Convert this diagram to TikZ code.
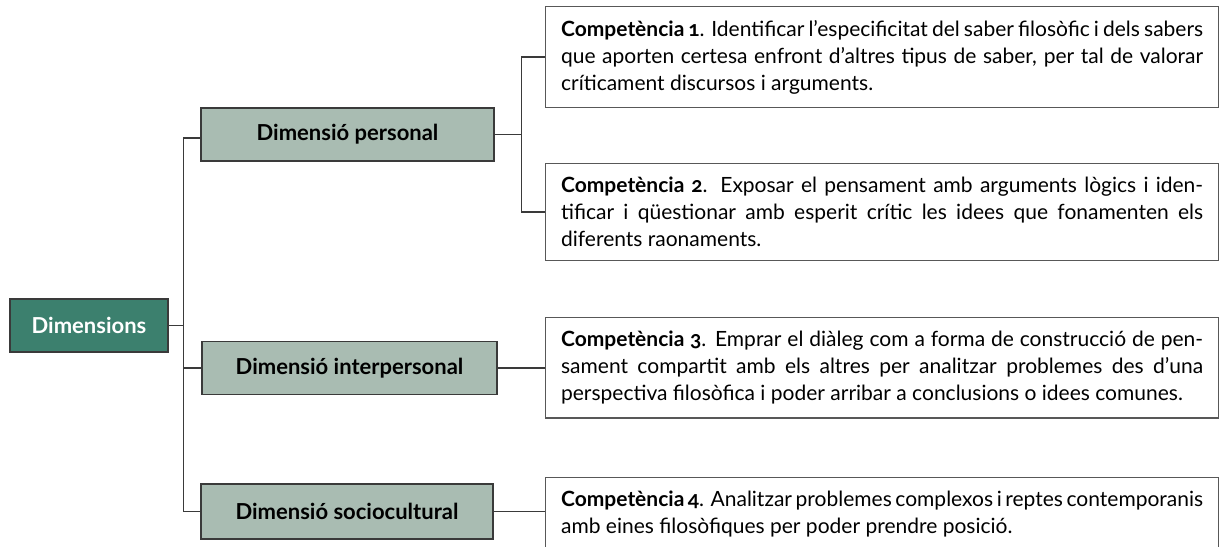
\documentclass[tikz,border=0pt]{standalone}
\usepackage{fontspec}
\setmainfont{Lato}[Numbers=OldStyle]
\usepackage{xcolor}
\definecolor{rootgreen}{HTML}{3C806E}
\definecolor{sagegrey}{HTML}{A9BCB2}
\definecolor{linegrey}{HTML}{3A3A3A}

\begin{document}
\begin{tikzpicture}[x=0.5pt, y=-0.5pt, line join=miter,
  rootbox/.style={draw=linegrey, line width=0.75pt, fill=rootgreen, text=white,
    font=\fontsize{11}{13}\selectfont\bfseries, minimum width=79pt, minimum height=26.5pt, inner sep=0pt},
  dimbox/.style={draw=linegrey, line width=0.75pt, fill=sagegrey,
    font=\fontsize{11}{13}\selectfont\bfseries, minimum height=26.5pt, inner sep=0pt},
  compbox/.style={draw=linegrey!85, line width=0.6pt, fill=white, anchor=north west,
    text width=321pt, align=justify, inner xsep=7.75pt, inner ysep=6.8pt,
    font=\fontsize{10.5}{13.5}\selectfont},
  link/.style={draw=linegrey, line width=0.65pt}]
  % ========================================================
  % 0. PAGE FRAME (pixel units, y going down)
  % ========================================================
  \useasboundingbox (0,0) rectangle (1219,546);

  % ========================================================
  % 1. ROOT AND THE THREE DIMENSIONS
  % ========================================================
  \node[rootbox] (dims) at (89,325.5) {Dimensions};
  \node[dimbox, minimum width=146.5pt] (pers) at (347.5,134.5) {Dimensió personal};
  \node[dimbox, minimum width=147.5pt] (inter) at (349.5,368) {Dimensió interpersonal};
  \node[dimbox, minimum width=146pt, minimum height=27.5pt] (socio) at (347,511.5) {Dimensió sociocultural};

  % ========================================================
  % 2. COMPETENCE BOXES (right column)
  % ========================================================
  \node[compbox] (comp1) at (545,6) {\textbf{Competència 1}. Identificar l'especificitat del saber filosòfic i dels sabers\linebreak
    que aporten certesa enfront d'altres tipus de saber, per tal de valorar\linebreak
    críticament discursos i arguments.};
  \node[compbox] (comp2) at (545,163) {\textbf{Competència 2}. Exposar el pensament amb arguments lògics i iden-\linebreak
    tificar i qüestionar amb esperit crític les idees que fonamenten els\linebreak
    diferents raonaments.};
  \node[compbox] (comp3) at (545,317) {\textbf{Competència 3}. Emprar el diàleg com a forma de construcció de pen-\linebreak
    sament compartit amb els altres per analitzar problemes des d'una\linebreak
    perspectiva filosòfica i poder arribar a conclusions o idees comunes.};
  \node[compbox] (comp4) at (545,477) {\textbf{Competència 4}. Analitzar problemes complexos i reptes contemporanis\linebreak
    amb eines filosòfiques per poder prendre posició.};

  % ========================================================
  % 3. CONNECTORS
  % ========================================================
  \draw[link] (dims.east) -- ++(15,0) |- ([yshift=-1.75pt]pers.west);
  \draw[link] (dims.east) -- ++(15,0) |- (inter.west);
  \draw[link] (dims.east) -- ++(15,0) |- (socio.west);

  \draw[link] (pers.east) -- ++(27,0) |- (comp1.west);
  \draw[link] (pers.east) -- ++(27,0) |- (comp2.west);
  \draw[link] (inter.east) -- (inter.east -| comp3.west);
  \draw[link] (socio.east) -- (socio.east -| comp4.west);

\end{tikzpicture}
\end{document}
